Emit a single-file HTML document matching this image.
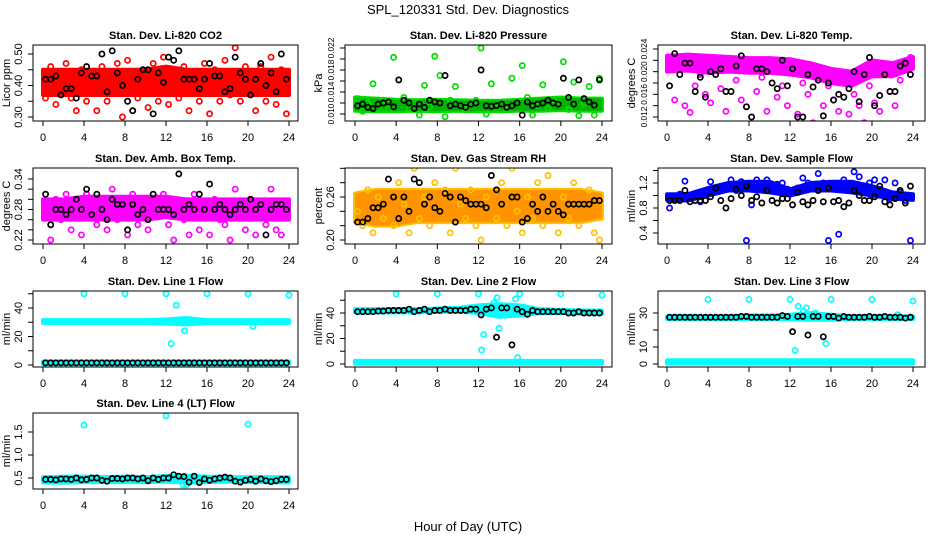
<!DOCTYPE html>
<html><head><meta charset="utf-8"><style>
html,body{margin:0;padding:0;background:#fff;}
svg{display:block;font-family:"Liberation Sans",Arial,sans-serif;}
</style></head><body>
<svg id="chart" width="936" height="540" viewBox="0 0 936 540" xmlns="http://www.w3.org/2000/svg">
<text x="468" y="14" text-anchor="middle" font-size="13">SPL_120331  Std. Dev. Diagnostics</text>
<text x="468" y="531" text-anchor="middle" font-size="13">Hour of Day (UTC)</text>
</svg>
<script>
const H48=[0.25,0.75,1.25,1.75,2.25,2.75,3.25,3.75,4.25,4.75,5.25,5.75,6.25,6.75,7.25,7.75,8.25,8.75,9.25,9.75,10.25,10.75,11.25,11.75,12.25,12.75,13.25,13.75,14.25,14.75,15.25,15.75,16.25,16.75,17.25,17.75,18.25,18.75,19.25,19.75,20.25,20.75,21.25,21.75,22.25,22.75,23.25,23.75];
const HB=[0,2,4,6,8,10,12,14,16,18,20,22,24];
const xTicks=[0,4,8,12,16,20,24];

const p1Color=[0.36,0.46,0.34,0.42,0.47,0.36,0.32,0.45,0.35,0.38,0.32,0.46,0.35,0.43,0.47,0.30,0.48,0.32,0.36,0.44,0.33,0.47,0.35,0.49,0.34,0.45,0.36,0.46,0.32,0.44,0.35,0.47,0.31,0.45,0.35,0.48,0.37,0.52,0.35,0.46,0.38,0.32,0.46,0.35,0.49,0.34,0.45,0.31];
const p1Black=[0.42,0.42,0.43,0.37,0.39,0.39,0.36,0.44,0.46,0.43,0.43,0.50,0.38,0.51,0.44,0.40,0.35,0.32,0.42,0.45,0.45,0.31,0.44,0.41,0.49,0.48,0.51,0.42,0.42,0.42,0.39,0.42,0.47,0.43,0.43,0.38,0.39,0.49,0.44,0.42,0.37,0.42,0.47,0.40,0.44,0.38,0.50,0.42];
const p1Lo=[0.37,0.37,0.37,0.37,0.37,0.37,0.37,0.37,0.37,0.37,0.37,0.37,0.37];
const p1Hi=[0.45,0.45,0.45,0.45,0.45,0.45,0.46,0.45,0.45,0.45,0.45,0.45,0.45];

const p2Color=[0.0128,0.0105,0.0120,0.0155,0.0110,0.0125,0.0108,0.0203,0.0162,0.0130,0.0110,0.0118,0.0098,0.0152,0.0113,0.0205,0.0170,0.0095,0.0125,0.0150,0.0115,0.0108,0.0120,0.0125,0.0220,0.0100,0.0155,0.0112,0.0118,0.0108,0.0165,0.0120,0.0188,0.0130,0.0098,0.0115,0.0153,0.0110,0.0125,0.0120,0.0195,0.0108,0.0158,0.0097,0.0120,0.0150,0.0098,0.0165];
const p2Black=[0.0115,0.0118,0.0112,0.0110,0.0118,0.0120,0.0122,0.0113,0.0162,0.0125,0.0120,0.0110,0.0118,0.0112,0.0125,0.0122,0.0120,0.0170,0.0115,0.0118,0.0115,0.0112,0.0118,0.0120,0.0180,0.0115,0.0114,0.0115,0.0118,0.0112,0.0115,0.0120,0.0098,0.0122,0.0115,0.0118,0.0120,0.0125,0.0120,0.0118,0.0165,0.0130,0.0118,0.0162,0.0128,0.0122,0.0116,0.0162];
const p2Lo=[0.0106,0.0105,0.0105,0.0106,0.0105,0.0106,0.0105,0.0105,0.0106,0.0106,0.0107,0.0106,0.0106];
const p2Hi=[0.0130,0.0128,0.0126,0.0125,0.0126,0.0125,0.0124,0.0124,0.0126,0.0128,0.0130,0.0128,0.0128];

const p3Color=[0.0225,0.0150,0.0210,0.0140,0.0128,0.0175,0.0195,0.0160,0.0145,0.0220,0.0170,0.0130,0.0205,0.0185,0.0150,0.0138,0.0215,0.0165,0.0190,0.0130,0.0205,0.0155,0.0175,0.0140,0.0215,0.0125,0.0180,0.0160,0.0110,0.0195,0.0140,0.0175,0.0150,0.0130,0.0185,0.0125,0.0160,0.0140,0.0110,0.0175,0.0145,0.0130,0.0200,0.0165,0.0140,0.0185,0.0210,0.0225];
const p3Black=[0.0175,0.0232,0.0195,0.0215,0.0215,0.0165,0.0190,0.0155,0.0200,0.0195,0.0205,0.0165,0.0165,0.0210,0.0228,0.0138,0.0120,0.0205,0.0205,0.0200,0.0180,0.0170,0.0220,0.0175,0.0205,0.0120,0.0120,0.0195,0.0173,0.0185,0.0122,0.0180,0.0150,0.0160,0.0155,0.0170,0.0200,0.0147,0.0195,0.0225,0.0140,0.0158,0.0195,0.0165,0.0165,0.0210,0.0215,0.0195];
const p3Lo=[0.0200,0.0202,0.0198,0.0200,0.0198,0.0198,0.0195,0.0190,0.0180,0.0175,0.0192,0.0192,0.0205];
const p3Hi=[0.0228,0.0230,0.0228,0.0226,0.0224,0.0224,0.0222,0.0215,0.0205,0.0200,0.0220,0.0215,0.0226];

const p4Color=[0.28,0.22,0.30,0.26,0.31,0.24,0.29,0.23,0.31,0.27,0.25,0.30,0.24,0.32,0.26,0.28,0.23,0.31,0.25,0.29,0.24,0.30,0.27,0.31,0.25,0.22,0.29,0.26,0.23,0.31,0.24,0.28,0.23,0.30,0.26,0.25,0.22,0.32,0.27,0.24,0.30,0.23,0.28,0.25,0.32,0.24,0.23,0.29];
const p4Black=[0.31,0.25,0.28,0.28,0.27,0.28,0.30,0.28,0.32,0.27,0.31,0.28,0.26,0.30,0.29,0.29,0.24,0.29,0.27,0.28,0.26,0.31,0.28,0.28,0.28,0.27,0.35,0.28,0.29,0.28,0.31,0.28,0.33,0.28,0.29,0.28,0.27,0.28,0.29,0.28,0.30,0.28,0.29,0.23,0.28,0.29,0.29,0.28];
const p4Lo=[0.26,0.26,0.26,0.26,0.26,0.26,0.265,0.26,0.26,0.26,0.26,0.26,0.26];
const p4Hi=[0.30,0.30,0.305,0.305,0.305,0.305,0.305,0.30,0.30,0.30,0.30,0.30,0.30];

const p5Color=[0.24,0.22,0.27,0.21,0.26,0.23,0.31,0.22,0.28,0.25,0.21,0.30,0.23,0.26,0.22,0.28,0.24,0.27,0.21,0.30,0.25,0.23,0.27,0.22,0.20,0.26,0.31,0.23,0.28,0.22,0.30,0.24,0.21,0.26,0.23,0.28,0.22,0.29,0.25,0.21,0.26,0.23,0.28,0.22,0.25,0.27,0.21,0.20];
const p5Black=[0.225,0.225,0.23,0.245,0.245,0.25,0.285,0.26,0.23,0.26,0.24,0.285,0.28,0.25,0.26,0.245,0.24,0.265,0.26,0.225,0.26,0.255,0.25,0.25,0.25,0.245,0.29,0.27,0.25,0.31,0.26,0.26,0.225,0.23,0.25,0.24,0.26,0.24,0.25,0.24,0.235,0.25,0.25,0.25,0.25,0.25,0.255,0.255];
const p5Lo=[0.225,0.22,0.22,0.225,0.225,0.225,0.225,0.225,0.225,0.225,0.225,0.225,0.23];
const p5Hi=[0.265,0.27,0.27,0.27,0.27,0.27,0.27,0.27,0.27,0.27,0.27,0.27,0.265];

const p6Color=[0.80,0.98,1.02,1.23,0.95,0.98,0.90,1.02,1.22,1.12,1.10,1.15,1.25,1.08,1.22,0.28,0.85,1.25,1.15,1.25,1.12,1.18,1.20,1.10,1.08,1.12,1.28,1.20,1.15,1.35,1.20,0.28,1.12,0.38,1.25,1.10,1.38,1.30,1.05,1.20,1.25,1.10,1.25,0.95,1.20,1.05,0.92,0.28];
const p6Black=[0.92,0.92,0.92,1.08,0.90,0.92,0.92,0.92,0.98,1.12,0.92,0.80,0.95,1.10,1.00,1.15,0.92,0.98,0.88,1.08,0.92,0.88,0.95,0.95,0.85,1.05,0.90,0.85,0.92,1.08,0.90,1.12,0.90,0.92,0.82,0.88,1.08,1.00,0.92,0.92,0.98,1.15,0.90,0.85,0.95,1.08,0.88,1.15];
const p6Lo=[0.93,0.92,1.00,1.08,1.08,1.05,1.00,1.08,1.08,1.05,1.00,0.95,0.93];
const p6Hi=[1.02,1.02,1.12,1.20,1.22,1.22,1.10,1.20,1.22,1.22,1.15,1.05,1.02];

const p7OutH=[4,8,12,12.5,13,13.8,16,20,20.5,24];
const p7OutV=[50,50,50,15,42,24,50,50,27,49];
const p7Black=[1.5,1.5,1.5,1.5,1.5,1.5,1.5,1.5,1.5,1.5,1.5,1.5,1.5,1.5,1.5,1.5,1.5,1.5,1.5,1.5,1.5,1.5,1.5,1.5,1.5,1.5,1.5,1.5,1.5,1.5,1.5,1.5,1.5,1.5,1.5,1.5,1.5,1.5,1.5,1.5,1.5,1.5,1.5,1.5,1.5,1.5,1.5,1.5];
const p7Lo=[29.5,29.5,29.5,29.5,29.5,29.5,29,28.5,29.5,29.5,29.5,29.5,29.5];
const p7Hi=[31.5,31.5,31.5,31.5,31.5,31.5,32,33,31.5,31.5,31.5,31.5,31.5];
const p7Lo2=[0.5,0.5,0.5,0.5,0.5,0.5,0.5,0.5,0.5,0.5,0.5,0.5,0.5];
const p7Hi2=[2.5,2.5,2.5,2.5,2.5,2.5,2.5,2.5,2.5,2.5,2.5,2.5,2.5];

const p8OutH=[4,8,12,12.3,12.5,13.5,13.8,14,15.6,15.8,16,20,24];
const p8OutV=[55,55,55,11,23,48,52,28,51,5,55,55,54];
const p8Black=[41,41,41,41,41.5,41.5,42,42,42,42,43,41,42,43,41,42,42,43,42,42,42,42,43,43,38.5,43,44,21,44,44,15,43,41,39,42,41,41,41,41,41,41,40,40,41,40,40,40,40];
const p8Lo=[40.5,40.5,40.5,40.5,41,41,40,37,38,40,40,39.5,39.5];
const p8Hi=[43,43,43,43,43.5,44,46,47,46,43,42.5,42,42];
const p8Lo2=[0.2,0.2,0.2,0.2,0.2,0.2,0.2,0.2,0.2,0.2,0.2,0.2,0.2];
const p8Hi2=[2.5,2.5,2.5,2.5,2.5,2.5,2.5,2.5,2.5,2.5,2.5,2.5,2.5];

const p9OutH=[4,8,12,12.5,12.8,13.3,13.6,14.5,15.5,16,20,22.5,24];
const p9OutV=[38,38,38,8,34,31,33,30,12,38,38,29,37];
const p9Black=[27.5,27.5,27.5,27.5,27.5,27.5,27.5,27.5,27.5,27.5,27.5,27.5,27.5,27.5,28,28,27.5,27.5,27.5,27.5,27.5,27.5,28.5,28,19,28,28,17,28,28,16,28,28,27,28,27.5,27.5,27.5,27.5,28,27.5,27.5,28,27.5,27.5,27.5,27,27.5];
const p9Lo=[26.5,26.5,26.5,26.5,26.5,26.5,26.5,26,26,26.5,26.5,26.5,26.5];
const p9Hi=[28,28,28,28,28.5,28.5,29,30,29,28,28,28,28];
const p9Lo2=[0.2,0.2,0.2,0.2,0.2,0.2,0.2,0.2,0.2,0.2,0.2,0.2,0.2];
const p9Hi2=[2.2,2.2,2.2,2.2,2.2,2.2,2.2,2.2,2.2,2.2,2.2,2.2,2.2];

const p10OutH=[4,12,20,13.7,14];
const p10OutV=[1.65,1.85,1.67,0.35,0.35];
const p10Black=[0.47,0.47,0.46,0.48,0.48,0.47,0.50,0.46,0.47,0.50,0.50,0.45,0.43,0.49,0.49,0.48,0.50,0.50,0.48,0.50,0.44,0.50,0.47,0.50,0.50,0.57,0.54,0.53,0.41,0.54,0.40,0.48,0.45,0.48,0.50,0.52,0.50,0.43,0.41,0.45,0.47,0.43,0.48,0.44,0.42,0.44,0.47,0.47];
const p10Lo=[0.40,0.40,0.41,0.41,0.41,0.41,0.42,0.40,0.41,0.42,0.41,0.41,0.40];
const p10Hi=[0.52,0.53,0.53,0.52,0.53,0.52,0.54,0.55,0.53,0.52,0.52,0.52,0.52];

const NS='http://www.w3.org/2000/svg';
const svg=document.getElementById('chart');
const COLX0=[43,355,667], COLX24=[289,602,913], BOXL=[33,345,658], BOXR=[298,612,925];
const ROWT=[45,168,291,413], BOXH=76;
function mk(tag,attrs,parent){const e=document.createElementNS(NS,tag);for(const k in attrs)e.setAttribute(k,attrs[k]);(parent||svg).appendChild(e);return e;}

function panel(cfg){
  const c=cfg.col,r=cfg.row;
  const g=mk('g',{});
  
  
  const xs=h=>COLX0[c]+(h/24)*(COLX24[c]-COLX0[c]);
  const ys=v=>cfg.py1+(v-cfg.v1)*(cfg.py2-cfg.py1)/(cfg.v2-cfg.v1);
  const top=ROWT[r],bot=top+BOXH;
  const cid='clip'+cfg.name;
  const cp=mk('clipPath',{id:cid},g);
  mk('rect',{x:BOXL[c],y:top,width:BOXR[c]-BOXL[c],height:BOXH},cp);
  const plot=mk('g',{'clip-path':'url(#'+cid+')'},g);
  (cfg.bands||[]).forEach(b=>{
    let pts=[];
    for(let i=0;i<HB.length;i++)pts.push(xs(HB[i])+','+ys(b[1][i]));
    for(let i=HB.length-1;i>=0;i--)pts.push(xs(HB[i])+','+ys(b[0][i]));
    const p=mk('polygon',{points:pts.join(' '),fill:cfg.color,stroke:cfg.color,'stroke-width':4,'stroke-linejoin':'round'},plot);
    
    
    if(cfg.dots){const p2=mk('polygon',{points:pts.join(' '),fill:cfg.dots,opacity:cfg.dotOp||0.35},plot);
      
      }
  });
  function pt(h,v,col,nm){
    const e=mk('circle',{cx:xs(h),cy:ys(v),r:2.6,fill:'none',stroke:col,'stroke-width':1.7},plot);
    
    
  }
  if(cfg.colorVals)cfg.colorVals.forEach((v,i)=>pt(H48[i],v,cfg.color,'color-point'));
  if(cfg.outH)cfg.outH.forEach((h,i)=>pt(h,cfg.outV[i],cfg.color,'outlier-point'));
  cfg.black.forEach((v,i)=>pt(H48[i],v,'#000','black-point'));
  const bx=mk('rect',{x:BOXL[c],y:top,width:BOXR[c]-BOXL[c],height:BOXH,fill:'none',stroke:'#000','stroke-width':1},g);
  
  
  mk('line',{x1:xs(0),x2:xs(24),y1:bot,y2:bot,stroke:'#000'},g);
  xTicks.forEach(t=>{
    mk('line',{x1:xs(t),x2:xs(t),y1:bot,y2:bot+5,stroke:'#000'},g);
    const tx=mk('text',{x:xs(t),y:bot+20,'text-anchor':'middle','font-size':11},g);
    tx.textContent=t;
    
    
  });
  const yl=BOXL[c];
  mk('line',{x1:yl,x2:yl,y1:ys(cfg.ticks[0]),y2:ys(cfg.ticks[cfg.ticks.length-1]),stroke:'#000'},g);
  cfg.ticks.forEach(t=>mk('line',{x1:yl-5,x2:yl,y1:ys(t),y2:ys(t),stroke:'#000'},g));
  const fs=cfg.tickFont||11;
  cfg.labels.forEach(t=>{
    const y=ys(parseFloat(t));
    const lx=yl-11;
    const tx=mk('text',{x:lx,y:y,'text-anchor':'middle','font-size':fs,transform:'rotate(-90 '+lx+' '+y+')'},g);
    tx.textContent=t;
    
    
  });
  const cy=top+BOXH/2;
  const tlx=yl-23;
  const yt=mk('text',{x:tlx,y:cy,'text-anchor':'middle','font-size':11,transform:'rotate(-90 '+tlx+' '+cy+')'},g);
  yt.textContent=cfg.ylab;
  
  
  const tt=mk('text',{x:(BOXL[c]+BOXR[c])/2,y:top-6,'text-anchor':'middle','font-size':11,'font-weight':'bold'},g);
  tt.textContent=cfg.title;
  
  
}

panel({name:'panel-co2',col:0,row:0,title:'Stan. Dev. Li-820 CO2',ylab:'Licor ppm',color:'#ff0000',v1:0.30,py1:117,v2:0.50,py2:54,ticks:[0.30,0.35,0.40,0.45,0.50],labels:['0.30','0.40','0.50'],bands:[[p1Lo,p1Hi]],colorVals:p1Color,black:p1Black});
panel({name:'panel-pressure',col:1,row:0,title:'Stan. Dev. Li-820 Pressure',ylab:'kPa',tickFont:8.3,color:'#00dd00',dots:'#006600',v1:0.010,py1:114,v2:0.022,py2:48,ticks:[0.010,0.012,0.014,0.016,0.018,0.020,0.022],labels:['0.010','0.014','0.018','0.022'],bands:[[p2Lo,p2Hi]],colorVals:p2Color,black:p2Black});
panel({name:'panel-temp',col:2,row:0,title:'Stan. Dev. Li-820 Temp.',ylab:'degrees C',tickFont:8.3,color:'#ff00ff',v1:0.012,py1:117,v2:0.024,py2:49,ticks:[0.012,0.014,0.016,0.018,0.020,0.022,0.024],labels:['0.012','0.016','0.020','0.024'],bands:[[p3Lo,p3Hi]],colorVals:p3Color,black:p3Black});
panel({name:'panel-box-temp',col:0,row:1,title:'Stan. Dev. Amb. Box Temp.',ylab:'degrees C',color:'#ff00ff',v1:0.22,py1:240,v2:0.34,py2:179,ticks:[0.22,0.24,0.26,0.28,0.30,0.32,0.34],labels:['0.22','0.28','0.34'],bands:[[p4Lo,p4Hi]],colorVals:p4Color,black:p4Black});
panel({name:'panel-rh',col:1,row:1,title:'Stan. Dev. Gas Stream RH',ylab:'percent',color:'#ffc000',dots:'#ff3000',dotOp:0.3,v1:0.20,py1:240,v2:0.26,py2:197,ticks:[0.20,0.22,0.24,0.26,0.28,0.30],labels:['0.20','0.26'],bands:[[p5Lo,p5Hi]],colorVals:p5Color,black:p5Black});
panel({name:'panel-sample-flow',col:2,row:1,title:'Stan. Dev. Sample Flow',ylab:'ml/min',color:'#0000ff',v1:0.4,py1:233,v2:1.2,py2:183,ticks:[0.4,0.6,0.8,1.0,1.2,1.4],labels:['0.4','0.8','1.2'],bands:[[p6Lo,p6Hi]],colorVals:p6Color,black:p6Black});
panel({name:'panel-line1',col:0,row:2,title:'Stan. Dev. Line 1 Flow',ylab:'ml/min',color:'#00ffff',v1:0,py1:365,v2:40,py2:308,ticks:[0,10,20,30,40,50],labels:['0','20','40'],bands:[[p7Lo,p7Hi],[p7Lo2,p7Hi2]],outH:p7OutH,outV:p7OutV,black:p7Black});
panel({name:'panel-line2',col:1,row:2,title:'Stan. Dev. Line 2 Flow',ylab:'ml/min',color:'#00ffff',v1:0,py1:364,v2:40,py2:313,ticks:[0,10,20,30,40,50],labels:['0','20','40'],bands:[[p8Lo,p8Hi],[p8Lo2,p8Hi2]],outH:p8OutH,outV:p8OutV,black:p8Black});
panel({name:'panel-line3',col:2,row:2,title:'Stan. Dev. Line 3 Flow',ylab:'ml/min',color:'#00ffff',v1:0,py1:364,v2:30,py2:313,ticks:[0,10,20,30],labels:['0','10','30'],bands:[[p9Lo,p9Hi],[p9Lo2,p9Hi2]],outH:p9OutH,outV:p9OutV,black:p9Black});
panel({name:'panel-line4',col:0,row:3,title:'Stan. Dev. Line 4 (LT) Flow',ylab:'ml/min',color:'#00ffff',v1:0.5,py1:478,v2:1.5,py2:432,ticks:[0.5,1.0,1.5],labels:['0.5','1.0','1.5'],bands:[[p10Lo,p10Hi]],outH:p10OutH,outV:p10OutV,black:p10Black});
</script>
</body></html>
